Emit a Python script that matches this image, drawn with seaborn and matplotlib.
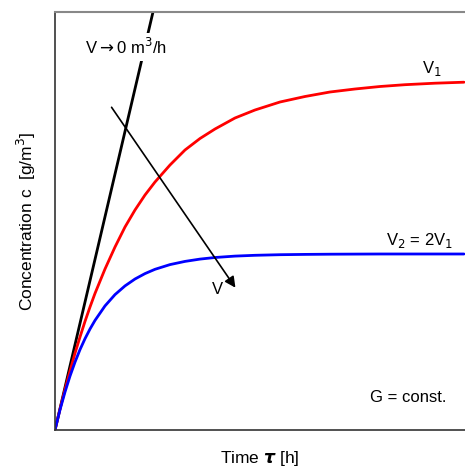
import pandas as pd
import seaborn as sns
import matplotlib.pyplot as plt
from matplotlib import font_manager

sns.set_style('white')
names = {f.name for f in font_manager.fontManager.ttflist}
narrow = 'Liberation Sans Narrow' if 'Liberation Sans Narrow' in names else 'Liberation Sans'
plt.rcParams['font.family'] = [narrow, 'DejaVu Sans']
plt.rcParams['text.color'] = 'black'
plt.rcParams['axes.labelcolor'] = 'black'

# Curve values (x: time, y: concentration, arbitrary units)
t = [0, 5, 10, 15, 20, 25, 30, 35, 40, 50, 60, 70, 80, 90, 100, 115, 130, 145,
     160, 180, 200, 225, 250, 275, 300, 325, 350, 380, 409]
c_v1 = [0, 21, 40.6, 59, 76.7, 93, 108.6, 123, 136.6, 161, 183, 203, 220, 235, 248,
        265, 280, 291.5, 301, 312, 320, 328, 333.5, 338, 341, 343.5, 345.3, 346.8, 347.8]
c_v2 = [0, 20.2, 38, 53.9, 67.9, 80.4, 91.3, 101, 109.6, 124.1, 135.4, 144.1, 151,
        156.4, 160.7, 165.4, 168.6, 170.9, 172.5, 173.9, 174.7, 175.3, 175.6, 175.8,
        175.9, 176, 176, 176, 176]
t_zero = [0, 98]
c_zero = [0, 418]

df = pd.DataFrame({'t': t, 'V1': c_v1, 'V2': c_v2})

fig = plt.figure(figsize=(4.65, 4.70), dpi=100)
ax = fig.add_axes([55 / 465, 40 / 470, 410 / 465, 418 / 470])

sns.lineplot(x=t_zero, y=c_zero, color='black', lw=2.0, ax=ax)
sns.lineplot(data=df, x='t', y='V1', color='#ff0000', lw=2.0, ax=ax)
sns.lineplot(data=df, x='t', y='V2', color='#0000ff', lw=2.0, ax=ax)

ax.set_xlim(0, 410)
ax.set_ylim(0, 418)
ax.set_xticks([])
ax.set_yticks([])
ax.set_xlabel('Time $\\boldsymbol{\\tau}$ [h]', fontsize=12.5, labelpad=14)
ax.set_ylabel('Concentration c  [g/m$^3$]', fontsize=12.5, labelpad=12)

for side in ['left', 'bottom']:
    ax.spines[side].set_color('#333333')
    ax.spines[side].set_linewidth(1.2)
ax.spines['top'].set_color('#888888')
ax.spines['top'].set_linewidth(1.5)
ax.spines['right'].set_visible(False)

ax.text(71, 383, 'V$\\rightarrow$0 m$^3$/h', fontsize=12, ha='center', va='center',
        bbox=dict(facecolor='white', edgecolor='none', pad=3))
ax.text(377, 362, 'V$_1$', fontsize=12, ha='center', va='center')
ax.text(364, 190, 'V$_2$ = 2V$_1$', fontsize=12, ha='center', va='center')
ax.text(162, 140, 'V', fontsize=12, ha='center', va='center')
ax.text(353, 32, 'G = const.', fontsize=12, ha='center', va='center')

ax.annotate('', xy=(182, 140), xytext=(55, 325),
            arrowprops=dict(arrowstyle='-|>', color='black', lw=1.2, mutation_scale=16))

fig.savefig('out.png', dpi=100)
